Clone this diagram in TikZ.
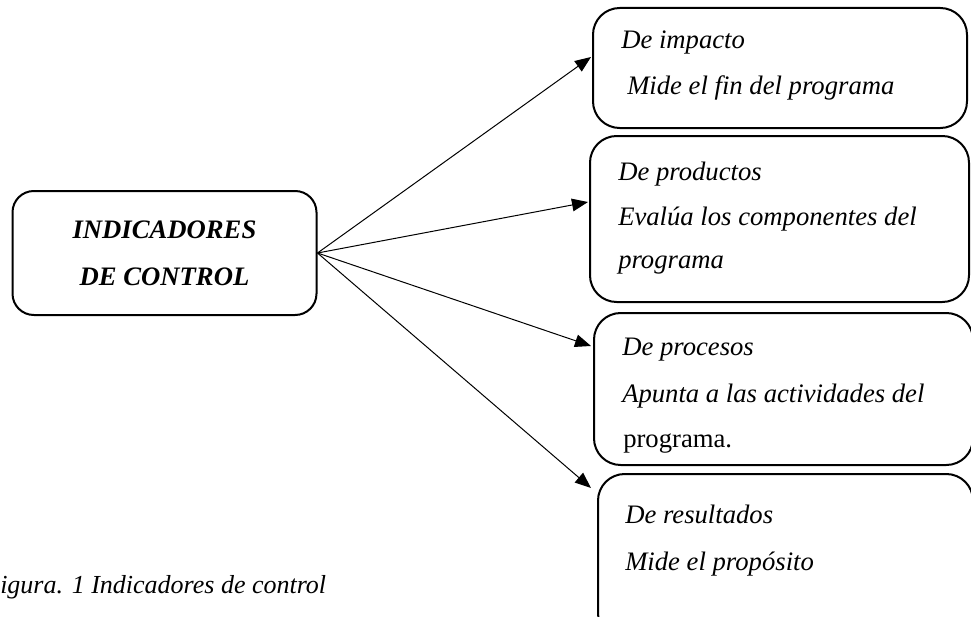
\documentclass[tikz,border=0pt]{standalone}
\usepackage{fontspec}
\setmainfont{Liberation Serif}
\usetikzlibrary{arrows.meta}

\begin{document}
\begin{tikzpicture}[x=0.75pt,y=0.75pt,yscale=-1,xscale=1,
  caja/.style={line width=1.5pt, rounded corners=20pt},
  flecha/.style={line width=0.75pt, -{Triangle[length=12pt,width=9.5pt]}},
  texto/.style={anchor=base west, inner sep=0pt, font=\fontsize{20}{23}\selectfont\itshape}]
\useasboundingbox (0,0) rectangle (971,617);

%Shape: Rounded Rectangle [main]
\node [draw, line width=1.5pt, rounded corners=16pt, minimum width=228pt, minimum height=93pt, align=center, font=\fontsize{20}{35}\selectfont\bfseries\itshape] (ind) at (164.5,253) {INDICADORES\\DE CONTROL};

%Shape: Rounded Rectangle [impacto]
\draw [caja] (593,8) rectangle (967,128);
%Shape: Rounded Rectangle [productos]
\draw [caja] (590,136) rectangle (969,302);
%Shape: Rounded Rectangle [procesos]
\draw [caja] (594,313) rectangle (973,465);
%Shape: Rounded Rectangle [resultados]
\draw [caja] (598,474) rectangle (973,640);

%Arrow ends
\coordinate (p1) at (591,57);
\coordinate (p2) at (588,202);
\coordinate (p3) at (591,346);
\coordinate (p4) at (591,488);

%Straight Lines
\draw [flecha] (ind.east) -- (p1);
\draw [flecha] (ind.east) -- (p2);
\draw [flecha] (ind.east) -- (p3);
\draw [flecha] (ind.east) -- (p4);

% Text Node
\node [texto] (t11) at (621,49) {De impacto};
\node [texto] (t12) at (627,94) {Mide el fin del programa};
% Text Node
\node [texto] (t21) at (618,180) {De productos};
\node [texto] (t22) at (618,225) {Evalúa los componentes del};
\node [texto] (t23) at (618,268) {programa};
% Text Node
\node [texto] (t31) at (622,355) {De procesos};
\node [texto] (t32) at (622,402) {Apunta a las actividades del};
\node [texto, font=\fontsize{20}{23}\selectfont\upshape] (t33) at (623,447) {programa.};
% Text Node
\node [texto] (t41) at (625,523) {De resultados};
\node [texto] (t42) at (625,570) {Mide el propósito};
% Text Node
\node [texto, font=\fontsize{19.5}{23}\selectfont\itshape] (cap) at (0,593) {igura. 1 Indicadores de control};

\end{tikzpicture}
\end{document}
